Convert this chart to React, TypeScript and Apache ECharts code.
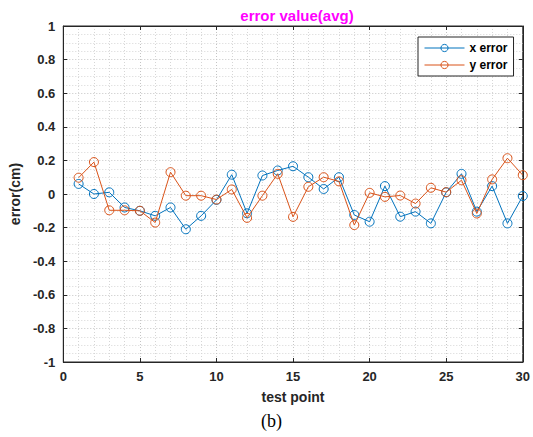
import React, { useEffect, useRef } from "react";
import * as echarts from "echarts";

const testPoints = [1, 2, 3, 4, 5, 6, 7, 8, 9, 10, 11, 12, 13, 14, 15, 16, 17, 18, 19, 20, 21, 22, 23, 24, 25, 26, 27, 28, 29, 30];
const xError = [0.06, 0.0, 0.01, -0.08, -0.1, -0.13, -0.08, -0.21, -0.13, -0.035, 0.115, -0.115, 0.11, 0.14, 0.165, 0.1, 0.03, 0.1, -0.125, -0.165, 0.047, -0.135, -0.105, -0.175, 0.01, 0.12, -0.105, 0.047, -0.175, -0.012];
const yError = [0.097, 0.19, -0.097, -0.097, -0.1, -0.17, 0.13, -0.01, -0.01, -0.033, 0.027, -0.142, -0.01, 0.12, -0.136, 0.043, 0.1, 0.075, -0.185, 0.007, -0.017, -0.009, -0.057, 0.037, 0.011, 0.082, -0.116, 0.087, 0.213, 0.112];
const seriesNames = ["x error", "y error"];
const titleText = "error value(avg)";
const xName = "test point";
const yName = "error(cm)";
const caption = "(b)";

const FONT = "'Liberation Sans', Arial, sans-serif";
const AX = "#262626";

export default function App() {
  const ref = useRef<HTMLDivElement>(null);
  useEffect(() => {
    if (!ref.current) return;
    const chart = echarts.init(ref.current, null, { renderer: "svg" });
    const grid = { left: 61, top: 26, right: 10, bottom: 75 };
    const mkSeries = (name: string, vals: number[], color: string) => ({
      name,
      type: "line",
      data: testPoints.map((t, i) => [t, vals[i]]),
      symbol: "circle",
      symbolSize: 9,
      showSymbol: true,
      lineStyle: { color, width: 1 },
      itemStyle: { color: "rgba(255,255,255,0)", borderColor: color, borderWidth: 1 },
      emphasis: { disabled: true },
      z: name === "x error" ? 3 : 4,
    });
    chart.setOption({
      animation: false,
      backgroundColor: "#ffffff",
      title: {
        text: titleText,
        left: 292,
        top: 3,
        textAlign: "center",
        textStyle: { color: "#ff00ff", fontFamily: FONT, fontWeight: "bold", fontSize: 15 },
      },
      legend: {
        orient: "vertical",
        left: 418,
        top: 37,
        data: seriesNames,
        borderColor: AX,
        borderWidth: 1,
        backgroundColor: "#ffffff",
        padding: [5, 6, 5, 6],
        itemGap: 5,
        itemWidth: 40,
        itemHeight: 9,
        itemStyle: { borderWidth: 1 },
        lineStyle: { width: 1 },
        textStyle: { fontFamily: FONT, fontWeight: "bold", fontSize: 12, color: "#000" },
      },
      grid: { ...grid, show: true, borderColor: AX, borderWidth: 1, backgroundColor: "#fff" },
      xAxis: [
        {
          type: "value",
          min: 0,
          max: 30,
          interval: 5,
          name: xName,
          nameLocation: "middle",
          nameGap: 28,
          nameTextStyle: { fontFamily: FONT, fontWeight: "bold", fontSize: 14, color: AX },
          axisLine: { show: true, onZero: false, lineStyle: { color: AX } },
          axisTick: { show: true, inside: true, length: 4, lineStyle: { color: AX } },
          axisLabel: { margin: 8, fontFamily: FONT, fontWeight: "bold", fontSize: 13, color: AX },
          splitLine: { show: true, lineStyle: { color: "#c4c4c4", type: [1, 2], width: 1 } },
          minorTick: { show: false, splitNumber: 5 },
          minorSplitLine: { show: true, lineStyle: { color: "#d6d6d6", type: [1, 2], width: 1 } },
        },
        {
          type: "value",
          position: "top",
          min: 0,
          max: 30,
          interval: 5,
          axisLine: { show: true, onZero: false, lineStyle: { color: AX } },
          axisTick: { show: true, inside: true, length: 4, lineStyle: { color: AX } },
          axisLabel: { show: false },
          splitLine: { show: false },
        },
      ],
      yAxis: [
        {
          type: "value",
          min: -1,
          max: 1,
          interval: 0.2,
          name: yName,
          nameLocation: "middle",
          nameGap: 37,
          nameTextStyle: { fontFamily: FONT, fontWeight: "bold", fontSize: 14, color: AX },
          axisLine: { show: true, onZero: false, lineStyle: { color: AX } },
          axisTick: { show: true, inside: true, length: 4, lineStyle: { color: AX } },
          axisLabel: {
            margin: 8,
            fontFamily: FONT,
            fontWeight: "bold",
            fontSize: 13,
            color: AX,
            formatter: (v: number) => String(Math.round(v * 10) / 10),
          },
          splitLine: { show: true, lineStyle: { color: "#c4c4c4", type: [1, 2], width: 1 } },
          minorTick: { show: false, splitNumber: 4 },
          minorSplitLine: { show: true, lineStyle: { color: "#d6d6d6", type: [1, 2], width: 1 } },
        },
        {
          type: "value",
          position: "right",
          min: -1,
          max: 1,
          interval: 0.2,
          axisLine: { show: true, onZero: false, lineStyle: { color: AX } },
          axisTick: { show: true, inside: true, length: 4, lineStyle: { color: AX } },
          axisLabel: { show: false },
          splitLine: { show: false },
        },
      ],
      series: [mkSeries(seriesNames[0], xError, "#0072BD"), mkSeries(seriesNames[1], yError, "#D95319")],
      graphic: [
        {
          type: "text",
          left: 261,
          top: 412,
          style: { text: caption, font: "18px 'Liberation Serif', 'Times New Roman', serif", fill: "#000" },
        },
      ],
    });
    return () => chart.dispose();
  }, []);
  return <div ref={ref} style={{ position: "fixed", left: 0, top: 0, width: 533, height: 437 }} />;
}
